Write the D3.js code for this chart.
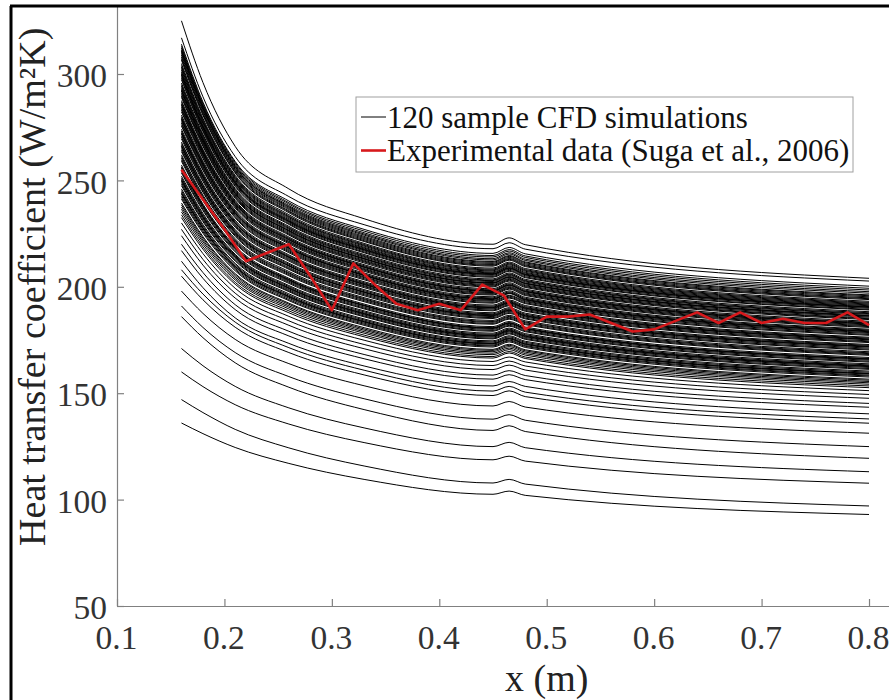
<!DOCTYPE html>
<html>
<head>
<meta charset="utf-8">
<script src="https://cdn.jsdelivr.net/npm/d3@7"></script>
<style>
  body { margin: 0; background: #fff; }
  svg { display: block; font-family: "Liberation Serif", "Times New Roman", serif; }
</style>
</head>
<body>
<svg id="chart" width="889" height="700"></svg>
<script>
// x positions (m) at which every CFD run is tabulated
const xPositions = [0.16, 0.18, 0.21, 0.26, 0.33, 0.45, 0.465, 0.48, 0.8];

// heat transfer coefficient (W/m2K) of the 120 CFD runs, one row per run
const cfdRuns = [
  [136, 131, 124.5, 117, 109.5, 102.5, 104, 102, 93],
  [147, 140.9, 133.0, 124.3, 115.8, 107.8, 109.5, 107.3, 97],
  [160, 153.1, 144.6, 135.5, 126.8, 118.7, 120.4, 118.1, 107.7],
  [171, 162.9, 153.2, 143.1, 133.7, 124.9, 126.9, 124.4, 113.1],
  [186, 176.1, 164.3, 152.8, 142.3, 132.5, 134.7, 132.0, 119.4],
  [191, 180.9, 169.1, 157.8, 147.4, 137.8, 139.9, 137.3, 124.9],
  [198, 187.5, 175.3, 163.9, 153.5, 144.0, 146.1, 143.5, 131.2],
  [205, 193.9, 181.0, 169.1, 158.6, 148.9, 151.1, 148.4, 135.9],
  [208, 196.6, 183.4, 171.4, 160.8, 151.0, 153.2, 150.5, 137.9],
  [212, 199.6, 185.4, 173.4, 162.8, 153.4, 155.5, 153.2, 140.3],
  [217, 204.0, 189.3, 176.9, 166.2, 156.6, 158.7, 156.4, 143.4],
  [220, 206.7, 191.6, 179.1, 168.2, 158.5, 160.6, 158.3, 145.2],
  [224, 210.2, 194.7, 181.9, 170.9, 161.1, 163.2, 160.9, 147.6],
  [227, 212.9, 197.0, 184.0, 172.9, 163.0, 165.1, 162.8, 149.4],
  [230, 215.6, 199.3, 186.1, 174.9, 164.9, 167.0, 164.7, 151.2],
  [232.5, 217.7, 201.2, 187.8, 176.5, 166.5, 168.9, 166.3, 152.6],
  [233.8, 218.8, 202.1, 188.7, 177.3, 167.2, 169.6, 167.0, 153.4],
  [235.2, 220.0, 203.2, 189.6, 178.2, 168.1, 170.5, 167.9, 154.2],
  [236.4, 221.1, 204.0, 190.4, 178.9, 168.8, 171.2, 168.6, 154.9],
  [237.5, 222.0, 204.8, 191.1, 179.6, 169.5, 171.9, 169.3, 155.5],
  [238.5, 222.9, 205.6, 191.8, 180.2, 170.1, 172.5, 169.9, 156.1],
  [239.4, 223.6, 206.2, 192.3, 180.8, 170.6, 173.0, 170.4, 156.6],
  [241.2, 225.2, 207.5, 193.5, 181.9, 171.7, 174.1, 171.5, 157.6],
  [242, 225.9, 208.1, 194.0, 182.4, 172.2, 174.6, 172.0, 158.1],
  [242.8, 226.6, 208.7, 194.6, 182.9, 172.6, 175.0, 172.4, 158.5],
  [243.6, 227.3, 209.3, 195.1, 183.4, 173.1, 175.5, 172.9, 159.0],
  [244.0, 227.6, 209.6, 195.4, 183.6, 173.3, 175.7, 173.1, 159.2],
  [244.4, 227.9, 209.8, 195.6, 183.9, 173.6, 176.0, 173.4, 159.4],
  [245.2, 228.6, 210.4, 196.1, 184.4, 174.1, 176.5, 173.9, 159.9],
  [246, 229.3, 211.0, 196.7, 184.9, 174.6, 177.0, 174.4, 160.4],
  [247.5, 230.6, 212.1, 197.7, 185.9, 175.5, 177.9, 175.3, 161.2],
  [248.2, 231.2, 212.6, 198.1, 186.3, 175.9, 178.3, 175.7, 161.6],
  [249, 231.9, 213.2, 198.6, 186.8, 176.4, 178.8, 176.2, 162.1],
  [249.7, 232.5, 213.7, 199.1, 187.2, 176.8, 179.2, 176.6, 162.5],
  [250.1, 232.8, 214.0, 199.4, 187.4, 177.0, 179.4, 176.8, 162.7],
  [250.5, 233.2, 214.3, 199.6, 187.7, 177.3, 179.7, 177.1, 162.9],
  [251.2, 233.8, 214.8, 200.1, 188.2, 177.7, 180.1, 177.5, 163.3],
  [252, 234.5, 215.3, 200.6, 188.7, 178.2, 180.6, 178.0, 163.8],
  [253.5, 235.8, 216.4, 201.6, 189.6, 179.1, 181.5, 178.9, 164.6],
  [254.2, 236.4, 216.9, 202.1, 190.0, 179.5, 181.9, 179.3, 165.0],
  [255, 237.1, 217.5, 202.6, 190.5, 180.0, 182.4, 179.8, 165.5],
  [255.7, 237.7, 218.0, 203.0, 191.0, 180.4, 182.8, 180.2, 165.9],
  [256.1, 238.0, 218.3, 203.3, 191.2, 180.6, 183.0, 180.4, 166.1],
  [256.4, 238.3, 218.5, 203.5, 191.4, 180.8, 183.2, 180.6, 166.3],
  [257.2, 238.9, 219.1, 204.0, 191.9, 181.3, 183.7, 181.1, 166.8],
  [259, 240.5, 220.4, 205.2, 193.0, 182.4, 184.8, 182.2, 167.8],
  [259.7, 241.1, 220.9, 205.7, 193.5, 182.8, 185.2, 182.6, 168.2],
  [260.5, 241.8, 221.5, 206.2, 194.0, 183.3, 185.7, 183.1, 168.6],
  [261.2, 242.4, 222.0, 206.6, 194.4, 183.7, 186.1, 183.5, 169.0],
  [262, 243.1, 222.6, 207.2, 194.9, 184.2, 186.6, 184.0, 169.5],
  [263.5, 244.4, 223.7, 208.2, 195.8, 185.1, 187.5, 184.9, 170.3],
  [264.2, 245.0, 224.2, 208.6, 196.3, 185.5, 187.9, 185.3, 170.7],
  [265, 245.6, 224.8, 209.1, 196.8, 186.0, 188.4, 185.8, 171.2],
  [265.8, 246.3, 225.3, 209.7, 197.3, 186.4, 188.8, 186.2, 171.7],
  [266.2, 246.6, 225.6, 209.9, 197.5, 186.6, 189.0, 186.4, 171.9],
  [266.5, 246.9, 225.9, 210.1, 197.7, 186.9, 189.3, 186.7, 172.1],
  [267.3, 247.6, 226.4, 210.6, 198.2, 187.3, 189.7, 187.1, 172.5],
  [268, 248.2, 226.9, 211.1, 198.7, 187.8, 190.2, 187.6, 172.9],
  [269.5, 249.5, 228.0, 212.1, 199.6, 188.7, 191.1, 188.5, 173.8],
  [270.3, 250.2, 228.6, 212.6, 200.1, 189.1, 191.5, 188.9, 174.2],
  [271, 250.8, 229.1, 213.1, 200.5, 189.6, 192.0, 189.4, 174.6],
  [271.8, 251.5, 229.7, 213.6, 201.0, 190.0, 192.4, 189.8, 175.1],
  [272.2, 251.8, 230.0, 213.9, 201.2, 190.2, 192.6, 190.0, 175.3],
  [272.5, 252.1, 230.2, 214.1, 201.5, 190.5, 192.9, 190.3, 175.5],
  [273.2, 252.7, 230.7, 214.5, 201.9, 190.9, 193.3, 190.7, 175.9],
  [274, 253.4, 231.3, 215.0, 202.4, 191.4, 193.8, 191.2, 176.3],
  [275.5, 254.7, 232.4, 216.0, 203.3, 192.3, 194.7, 192.1, 177.2],
  [276.2, 255.3, 232.9, 216.5, 203.8, 192.7, 195.1, 192.5, 177.6],
  [277, 255.9, 233.5, 217.0, 204.3, 193.2, 195.6, 193.0, 178.1],
  [277.7, 256.5, 234.0, 217.5, 204.7, 193.6, 196.0, 193.4, 178.5],
  [278.5, 257.2, 234.5, 218.0, 205.2, 194.0, 196.8, 193.8, 178.9],
  [278.9, 257.5, 234.7, 218.2, 205.4, 194.2, 197.0, 194.0, 179.1],
  [279.2, 257.8, 235.0, 218.4, 205.6, 194.4, 197.2, 194.2, 179.3],
  [279.9, 258.4, 235.5, 218.8, 206.0, 194.8, 197.6, 194.6, 179.7],
  [280.7, 259.1, 236.0, 219.3, 206.5, 195.3, 198.1, 195.1, 180.1],
  [282.2, 260.3, 237.0, 220.2, 207.3, 196.1, 198.9, 195.9, 180.9],
  [283, 261.0, 237.6, 220.7, 207.8, 196.5, 199.3, 196.3, 181.3],
  [283.7, 261.6, 238.0, 221.1, 208.2, 196.9, 199.7, 196.7, 181.7],
  [284.4, 262.2, 238.5, 221.5, 208.6, 197.3, 200.1, 197.1, 182.1],
  [285.2, 262.8, 239.0, 222.0, 209.1, 197.8, 200.6, 197.6, 182.5],
  [285.6, 263.1, 239.2, 222.2, 209.3, 198.0, 200.8, 197.8, 182.7],
  [286, 263.5, 239.6, 222.5, 209.5, 198.2, 201.0, 198.0, 183.0],
  [286.7, 264.1, 240.1, 222.9, 209.9, 198.6, 201.4, 198.4, 183.3],
  [287.5, 264.7, 240.6, 223.4, 210.4, 199.1, 201.9, 198.9, 183.8],
  [289, 266.0, 241.6, 224.3, 211.2, 199.9, 202.7, 199.7, 184.6],
  [289.7, 266.6, 242.1, 224.7, 211.7, 200.3, 203.1, 200.1, 185.0],
  [290.4, 267.2, 242.6, 225.1, 212.1, 200.7, 203.5, 200.5, 185.3],
  [291.2, 267.8, 243.1, 225.6, 212.5, 201.1, 203.9, 200.9, 185.8],
  [292, 268.5, 243.7, 226.1, 213.0, 201.6, 204.4, 201.4, 186.2],
  [292.4, 268.8, 243.9, 226.3, 213.2, 201.8, 204.6, 201.6, 186.4],
  [292.8, 269.2, 244.2, 226.6, 213.4, 202.0, 204.8, 201.8, 186.6],
  [293.6, 269.8, 244.7, 227.1, 213.9, 202.5, 205.3, 202.3, 187.1],
  [294.3, 270.4, 245.2, 227.5, 214.3, 202.9, 205.7, 202.7, 187.4],
  [295, 271.0, 245.7, 227.9, 214.7, 203.2, 206.0, 203.0, 187.8],
  [295.8, 271.7, 246.2, 228.4, 215.2, 203.7, 206.5, 203.5, 188.3],
  [297.3, 272.9, 247.2, 229.3, 216.0, 204.5, 207.3, 204.3, 189.1],
  [298, 273.5, 247.7, 229.7, 216.4, 204.9, 207.7, 204.7, 189.4],
  [298.8, 274.2, 248.3, 230.2, 216.9, 205.4, 208.2, 205.2, 189.9],
  [299.5, 274.7, 248.7, 230.6, 217.3, 205.8, 208.6, 205.6, 190.3],
  [299.9, 275.0, 248.9, 230.8, 217.5, 206.0, 208.8, 205.8, 190.5],
  [300.3, 275.4, 249.3, 231.1, 217.8, 206.2, 209.0, 206.0, 190.7],
  [301, 276.0, 249.7, 231.5, 218.2, 206.6, 209.4, 206.4, 191.1],
  [301.8, 276.7, 250.3, 232.0, 218.6, 207.0, 209.8, 206.8, 191.5],
  [302.6, 277.3, 250.8, 232.5, 219.1, 207.5, 210.3, 207.3, 191.9],
  [303.3, 277.9, 251.3, 232.9, 219.5, 207.9, 210.7, 207.7, 192.3],
  [304, 278.5, 251.8, 233.3, 219.9, 208.3, 211.1, 208.1, 192.7],
  [304.9, 279.2, 252.4, 233.9, 220.4, 208.8, 211.6, 208.6, 193.2],
  [306.5, 280.6, 253.5, 234.8, 221.3, 209.7, 212.5, 209.5, 194.0],
  [307.2, 281.2, 253.9, 235.3, 221.7, 210.1, 212.9, 209.9, 194.4],
  [308, 281.8, 254.5, 235.7, 222.2, 210.5, 213.3, 210.3, 194.8],
  [308.9, 282.6, 255.1, 236.3, 222.7, 211.0, 213.8, 210.8, 195.3],
  [309.7, 283.3, 255.6, 236.8, 223.2, 211.5, 214.3, 211.3, 195.8],
  [310.5, 283.9, 256.2, 237.3, 223.7, 211.9, 214.7, 211.7, 196.2],
  [310.9, 284.2, 256.5, 237.7, 224.3, 212.6, 215.4, 212.4, 197.0],
  [311.4, 284.7, 257.0, 238.2, 224.8, 213.2, 216.0, 213.0, 197.7],
  [312.2, 285.3, 257.6, 238.9, 225.4, 214.0, 216.8, 213.8, 198.5],
  [313, 286.0, 258.3, 239.5, 226.2, 214.7, 217.5, 214.5, 199.3],
  [314, 286.8, 258.9, 240.3, 227.0, 215.7, 218.5, 215.5, 200.3],
  [317, 289.3, 261.2, 242.4, 229.2, 217.9, 220.7, 217.7, 202.7],
  [325, 296, 266, 246, 232, 220, 223, 219.8, 204]
];

// experimental data (Suga et al., 2006)
const expX = [0.16, 0.18, 0.20, 0.22, 0.24, 0.26, 0.28, 0.30, 0.32, 0.34, 0.36, 0.38, 0.40,
  0.42, 0.44, 0.46, 0.48, 0.50, 0.52, 0.54, 0.56, 0.58, 0.60, 0.62, 0.64, 0.66, 0.68,
  0.70, 0.72, 0.74, 0.76, 0.78, 0.80];
const expH = [255, 241, 227, 212, 216, 220, 205, 189, 211, 201, 192, 189, 192,
  189, 201, 196, 180, 186, 186, 187, 183, 179, 180, 184, 188, 183, 188,
  183, 185, 183, 183, 188, 182];

const xTicks = [0.1, 0.2, 0.3, 0.4, 0.5, 0.6, 0.7, 0.8];
const yTicks = [50, 100, 150, 200, 250, 300];
const legendLabels = ["120 sample CFD simulations", "Experimental data (Suga et al., 2006)"];

const svg = d3.select("#chart");

// scales (axes limits 0.1-0.9 and 50-350, the figure is cropped on the top and right)
let x = d3.scaleLinear().domain([0.1, 0.9]).range([117, 117 + 0.8 * 1074.3]);
let y = d3.scaleLinear().domain([50, 350]).range([606, 606 - 300 * 2.128]);

// axes, MATLAB style ticks pointing inward
let xAxis = svg.append("g")
  .attr("transform", "translate(0,606)")
  .call(d3.axisBottom(x).tickValues(xTicks).tickFormat(d3.format(".1f")).tickSizeInner(-7).tickSizeOuter(0));
xAxis.selectAll("text")
  .attr("x", -1).attr("y", 43).attr("dy", null);

let yAxis = svg.append("g")
  .attr("transform", "translate(117,0)")
  .call(d3.axisLeft(y).tickValues(yTicks).tickSizeInner(-7).tickSizeOuter(0));
yAxis.selectAll("text")
  .attr("x", -10).attr("dy", "0.38em");

svg.selectAll(".domain, .tick line").attr("stroke", "#808080").attr("stroke-width", 1.2);
[xAxis, yAxis].forEach(ax => ax.attr("font-family", null).attr("font-size", 33.5));
svg.selectAll(".tick text").attr("fill", "#333");

// CFD runs
let runLine = d3.line()
  .x((d, i) => x(xPositions[i]))
  .y(d => y(d))
  .curve(d3.curveMonotoneX);

svg.append("g")
  .selectAll("path")
  .data(cfdRuns)
  .enter()
  .append("path")
  .attr("d", runLine)
  .attr("fill", "none")
  .attr("stroke", "#000")
  .attr("stroke-width", 1);

// experimental data
let expLine = d3.line()
  .x(d => x(d[0]))
  .y(d => y(d[1]));

svg.append("path")
  .datum(expX.map((v, i) => [v, expH[i]]))
  .attr("d", expLine)
  .attr("fill", "none")
  .attr("stroke", "#d7191c")
  .attr("stroke-width", 2.6)
  .attr("stroke-linejoin", "round");

// legend
let legend = svg.append("g");
legend.append("rect")
  .attr("x", 356).attr("y", 97)
  .attr("width", 497).attr("height", 75)
  .attr("fill", "#fff").attr("stroke", "#a0a0a0").attr("stroke-width", 1);

let legendStyles = [
  { color: "#000", width: 1 },
  { color: "#d7191c", width: 2.6 }
];
legendLabels.forEach((label, i) => {
  let cy = 117 + i * 33.5;
  legend.append("line")
    .attr("x1", 361).attr("x2", 386)
    .attr("y1", cy).attr("y2", cy)
    .attr("stroke", legendStyles[i].color)
    .attr("stroke-width", legendStyles[i].width);
  legend.append("text")
    .attr("x", 387).attr("y", cy + 10.5)
    .attr("font-size", 31).attr("fill", "#111")
    .text(label);
});

// axis labels
svg.append("text")
  .attr("x", x(0.5)).attr("y", 691)
  .attr("text-anchor", "middle")
  .attr("font-size", 38).attr("fill", "#222")
  .text("x (m)");

svg.append("text")
  .attr("transform", `translate(45,${y(200)}) rotate(-90)`)
  .attr("text-anchor", "middle")
  .attr("font-size", 38).attr("fill", "#222")
  .text("Heat transfer coefficient (W/m²K)");

// outer frame of the cropped figure
svg.append("rect").attr("x", 0).attr("y", 0).attr("width", 889).attr("height", 5).attr("fill", "#fff");
svg.append("rect").attr("x", 0).attr("y", 0).attr("width", 10).attr("height", 700).attr("fill", "#fff");
svg.append("line").attr("x1", 10).attr("x2", 889).attr("y1", 6).attr("y2", 6)
  .attr("stroke", "#000").attr("stroke-width", 3);
svg.append("line").attr("x1", 11).attr("x2", 11).attr("y1", 6).attr("y2", 700)
  .attr("stroke", "#000").attr("stroke-width", 3);
</script>
</body>
</html>
